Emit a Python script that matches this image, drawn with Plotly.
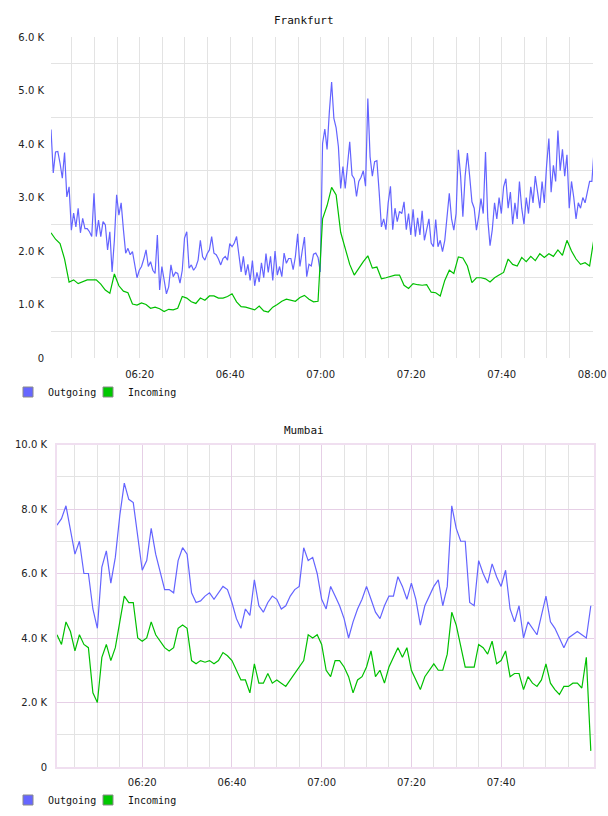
import pandas as pd
import plotly.graph_objects as go

# ---------------- data (values in K) ----------------
fra_out_k = [
    4.27, 3.46, 3.85, 3.86, 3.64, 3.36, 3.84, 3.01, 3.20, 2.39,
    2.71, 2.45, 2.80, 2.34, 2.61, 2.42, 2.42, 2.36, 2.27, 3.08,
    2.27, 2.58, 2.27, 2.55, 2.49, 2.02, 2.36, 1.61, 2.20, 3.05,
    2.67, 2.90, 2.40, 1.96, 2.05, 1.93, 1.99, 1.77, 1.50, 1.64,
    1.71, 1.85, 2.02, 1.71, 1.80, 1.64, 1.58, 2.30, 1.27, 1.71,
    1.45, 1.20, 1.33, 1.74, 1.52, 1.60, 1.58, 1.40, 1.64, 2.24,
    2.36, 1.68, 1.74, 1.64, 1.70, 1.83, 2.20, 1.89, 1.83, 1.95,
    2.02, 2.27, 1.96, 1.93, 1.85, 1.74, 1.86, 1.90, 1.83, 2.14,
    2.08, 2.15, 2.27, 1.95, 1.61, 1.90, 1.55, 1.75, 1.45, 1.82,
    1.35, 1.60, 1.42, 1.78, 1.50, 1.95, 1.60, 1.90, 1.45, 2.00,
    1.55, 1.71, 1.52, 1.96, 1.77, 1.86, 1.86, 1.65, 1.90, 2.32,
    1.71, 2.00, 2.26, 1.52, 1.75, 1.72, 1.94, 1.96, 1.88, 1.61,
    4.01, 4.28, 3.90, 4.60, 5.16, 4.48, 4.30, 3.95, 3.17, 3.58,
    3.17, 3.60, 4.04, 3.42, 3.35, 3.02, 3.30, 3.38, 3.50, 3.21,
    4.85, 3.76, 3.40, 3.67, 3.69, 3.11, 2.45, 2.60, 2.40, 2.90,
    3.21, 2.40, 2.80, 2.55, 2.74, 2.70, 2.92, 2.40, 2.70, 2.30,
    2.78, 2.27, 2.62, 2.30, 2.75, 2.20, 2.40, 2.60, 2.15, 2.08,
    2.59, 2.08, 2.20, 1.99, 2.20, 2.67, 3.08, 2.60, 2.39, 2.70,
    3.89, 3.40, 2.64, 3.40, 3.83, 3.40, 2.92, 2.80, 2.39, 2.65,
    2.98, 2.70, 3.85, 2.60, 2.10, 2.40, 2.90, 2.60, 3.00, 2.70,
    3.20, 3.35, 2.80, 3.10, 2.50, 2.90, 2.60, 3.30, 2.80, 2.50,
    3.00, 2.70, 3.20, 2.90, 3.40, 3.10, 2.80, 3.30, 2.90, 3.60,
    4.10, 3.10, 3.60, 3.30, 4.25, 3.50, 3.90, 3.40, 3.80, 2.80,
    3.30, 3.00, 2.60, 2.90, 2.80, 3.00, 2.90, 3.10, 3.30, 3.30,
    3.90,
]
fra_in_k = [
    2.34, 2.22, 2.14, 1.85, 1.42, 1.46, 1.39, 1.42, 1.46, 1.46,
    1.46, 1.38, 1.27, 1.21, 1.57, 1.35, 1.25, 1.22, 1.01, 0.99,
    1.03, 1.00, 0.93, 0.95, 0.92, 0.87, 0.91, 0.90, 0.93, 1.15,
    1.12, 1.05, 1.02, 1.12, 1.08, 1.16, 1.16, 1.12, 1.12, 1.15,
    1.20, 1.05, 0.96, 0.95, 0.93, 0.90, 0.97, 0.88, 0.86, 0.95,
    1.00, 1.06, 1.10, 1.08, 1.06, 1.13, 1.17, 1.10, 1.05, 1.06,
    2.60, 2.85, 3.19, 3.05, 2.35, 2.05, 1.75, 1.55, 1.68, 1.80,
    1.91, 1.68, 1.70, 1.48, 1.50, 1.53, 1.55, 1.55, 1.36, 1.30,
    1.39, 1.37, 1.36, 1.37, 1.23, 1.22, 1.16, 1.45, 1.64, 1.58,
    1.89, 1.87, 1.72, 1.41, 1.50, 1.50, 1.48, 1.42, 1.50, 1.55,
    1.60, 1.85, 1.75, 1.72, 1.88, 1.80, 1.90, 1.82, 1.95, 1.88,
    1.95, 1.90, 2.02, 1.92, 2.20, 2.00, 1.85, 1.75, 1.78, 1.72,
    2.25,
]
mum_out_k = [
    7.5, 7.7, 8.1, 7.4, 6.6, 7.0, 6.0, 6.0, 4.9, 4.3,
    6.2, 6.7, 5.7, 6.5, 7.8, 8.8, 8.3, 8.2, 7.2, 6.1,
    6.4, 7.4, 6.6, 6.0, 5.5, 5.5, 5.4, 6.4, 6.8, 6.6,
    5.4, 5.1, 5.15, 5.3, 5.4, 5.2, 5.4, 5.6, 5.5, 5.1,
    4.6, 4.3, 4.9, 4.7, 5.8, 5.0, 4.8, 5.1, 5.3, 5.2,
    4.9, 5.0, 5.3, 5.5, 5.6, 6.8, 6.4, 6.5, 6.0, 5.2,
    4.9, 5.6, 5.3, 5.0, 4.6, 4.0, 4.5, 4.9, 5.2, 5.6,
    5.2, 4.8, 4.6, 5.0, 5.3, 5.3, 5.9, 5.6, 5.2, 5.7,
    5.2, 4.4, 5.0, 5.3, 5.6, 5.8, 5.0, 5.6, 8.1, 7.4,
    7.0, 7.0, 5.1, 5.0, 6.4, 6.0, 5.7, 6.3, 5.9, 5.6,
    6.1, 4.9, 4.5, 5.0, 4.0, 4.5, 4.3, 4.1, 4.7, 5.3,
    4.5, 4.3, 4.0, 3.7, 4.0, 4.1, 4.2, 4.1, 4.0, 5.0,
]
mum_in_k = [
    4.1, 3.8, 4.5, 4.2, 3.6, 4.1, 3.8, 3.7, 2.3, 2.0,
    3.4, 3.8, 3.3, 3.7, 4.5, 5.3, 5.1, 5.1, 4.0, 3.9,
    4.0, 4.5, 4.1, 3.9, 3.7, 3.6, 3.7, 4.3, 4.4, 4.3,
    3.3, 3.2, 3.3, 3.25, 3.3, 3.2, 3.3, 3.55, 3.45, 3.3,
    3.0, 2.7, 2.7, 2.3, 3.2, 2.6, 2.6, 2.9, 2.6, 2.7,
    2.6, 2.5, 2.7, 2.9, 3.1, 3.3, 4.1, 4.0, 4.1, 3.8,
    3.0, 2.8, 3.3, 3.3, 3.1, 2.8, 2.3, 2.7, 2.8, 3.1,
    3.6, 2.8, 3.0, 2.6, 3.1, 3.4, 3.7, 3.4, 3.7, 3.0,
    2.7, 2.4, 2.8, 3.0, 3.2, 3.0, 3.0, 3.5, 4.8, 4.4,
    3.8, 3.1, 3.1, 3.1, 3.8, 3.7, 3.5, 3.9, 3.2, 3.3,
    3.6, 2.8, 2.9, 2.9, 2.4, 2.8, 2.6, 2.5, 2.7, 3.2,
    2.6, 2.4, 2.25, 2.5, 2.5, 2.6, 2.6, 2.45, 3.4, 0.5,
]

fra_y_ticks = [0, 1, 2, 3, 4, 5, 6]
fra_y_text = ["0", "1.0 K", "2.0 K", "3.0 K", "4.0 K", "5.0 K", "6.0 K"]
mum_y_ticks = [0, 2, 4, 6, 8, 10]
mum_y_text = ["0", "2.0 K", "4.0 K", "6.0 K", "8.0 K", "10.0 K"]
fra_x_labels = ["06:20", "06:40", "07:00", "07:20", "07:40", "08:00"]
mum_x_labels = ["06:20", "06:40", "07:00", "07:20", "07:40"]
series_names = ["Outgoing", "Incoming"]

DAY = "2013-05-14 "
fra_out_t = pd.date_range(DAY + "06:00:25", periods=len(fra_out_k), freq="30s")
fra_in_t = pd.date_range(DAY + "06:00:25", periods=len(fra_in_k), freq="60s")
mum_out_t = pd.date_range(DAY + "06:01:00", periods=len(mum_out_k), freq="60s")
mum_in_t = pd.date_range(DAY + "06:01:00", periods=len(mum_in_k), freq="60s")

five_min = pd.date_range(DAY + "06:05", DAY + "07:55", freq="5min")

BLUE = "#6464ff"
GREEN = "#00c000"
GRID = "#e3e3e3"
LILAC = "#e6cfe6"
BORDER = "#f0dff0"
W, H = 608, 816

fig = go.Figure()
# Frankfurt
fig.add_trace(go.Scatter(x=fra_out_t, y=fra_out_k, mode="lines", line=dict(color=BLUE, width=1.2),
                         showlegend=False, xaxis="x", yaxis="y"))
fig.add_trace(go.Scatter(x=fra_in_t, y=fra_in_k, mode="lines", line=dict(color=GREEN, width=1.2),
                         showlegend=False, xaxis="x", yaxis="y"))
# Mumbai
fig.add_trace(go.Scatter(x=mum_out_t, y=mum_out_k, mode="lines", line=dict(color=BLUE, width=1.2),
                         showlegend=False, xaxis="x2", yaxis="y2"))
fig.add_trace(go.Scatter(x=mum_in_t, y=mum_in_k, mode="lines", line=dict(color=GREEN, width=1.2),
                         showlegend=False, xaxis="x2", yaxis="y2"))

# legend entries (square swatches); a blank trailing entry gives room for the last label
for leg, xa, ya in (("legend", "x", "y"), ("legend2", "x2", "y2")):
    for name, col in zip(series_names, ("#6666ff", "#00c800")):
        fig.add_trace(go.Scatter(x=[None], y=[None], mode="markers", name=name,
                                 marker=dict(symbol="square", size=10, color=col,
                                             line=dict(color="#8a8a8a", width=1)),
                                 legend=leg, xaxis=xa, yaxis=ya))
    fig.add_trace(go.Scatter(x=[None], y=[None], mode="markers", name=" ",
                             marker=dict(symbol="square", size=1, color="rgba(0,0,0,0)",
                                         line=dict(width=0)),
                             legend=leg, xaxis=xa, yaxis=ya, hoverinfo="skip"))

tickfont = dict(family="DejaVu Sans", size=10, color="#222")
legfont = dict(family="DejaVu Sans Mono", size=10, color="#111")

fig.update_layout(
    width=W, height=H, autosize=False,
    margin=dict(l=0, r=0, t=0, b=0, autoexpand=False),
    paper_bgcolor="white", plot_bgcolor="white",
    xaxis=dict(
        type="date", domain=[51 / W, 593 / W],
        range=[DAY + "06:00:25", DAY + "08:00:10"],
        tickmode="array",
        tickvals=[DAY + t for t in fra_x_labels], ticktext=fra_x_labels,
        showgrid=True, gridcolor=GRID, gridwidth=1,
        minor=dict(tickmode="array", tickvals=list(five_min), showgrid=True, gridcolor=GRID, gridwidth=1),
        zeroline=False, showline=False, ticks="", ticklabelstandoff=9,
        tickfont=tickfont, anchor="y", fixedrange=True, automargin=False,
    ),
    yaxis=dict(
        domain=[1 - 358 / H, 1 - 37 / H], range=[0, 6],
        tickmode="array", tickvals=fra_y_ticks, ticktext=fra_y_text,
        showgrid=False,
        minor=dict(tickmode="array", tickvals=[0.5, 1.5, 2.5, 3.5, 4.5, 5.5],
                   showgrid=True, gridcolor=GRID, gridwidth=1),
        zeroline=False, showline=False, ticks="", ticklabelstandoff=6,
        tickfont=tickfont, anchor="x", fixedrange=True, automargin=False,
    ),
    xaxis2=dict(
        type="date", domain=[57 / W, 593.5 / W],
        range=[DAY + "06:01:00", DAY + "08:00:36"],
        tickmode="array",
        tickvals=[DAY + t for t in mum_x_labels], ticktext=mum_x_labels,
        showgrid=True, gridcolor=LILAC, gridwidth=1,
        minor=dict(tickmode="array", tickvals=list(five_min), showgrid=True, gridcolor=GRID, gridwidth=1),
        zeroline=False, showline=True, mirror=True, linecolor=BORDER, linewidth=2,
        ticks="", ticklabelstandoff=5,
        tickfont=tickfont, anchor="y2", fixedrange=True, automargin=False,
    ),
    yaxis2=dict(
        domain=[1 - 767 / H, 1 - 444.5 / H], range=[0, 10],
        tickmode="array", tickvals=mum_y_ticks, ticktext=mum_y_text,
        showgrid=True, gridcolor=LILAC, gridwidth=1,
        minor=dict(tickmode="array", tickvals=[1, 3, 5, 7, 9],
                   showgrid=True, gridcolor=GRID, gridwidth=1),
        zeroline=False, showline=True, mirror=True, linecolor=BORDER, linewidth=2,
        ticks="", ticklabelstandoff=6,
        tickfont=tickfont, anchor="x2", fixedrange=True, automargin=False,
    ),
    legend=dict(orientation="h", x=8 / W, y=1 - 392 / H, xanchor="left", yanchor="middle",
                entrywidth=35, entrywidthmode="pixels", bgcolor="rgba(0,0,0,0)",
                font=legfont, itemclick=False, itemdoubleclick=False),
    legend2=dict(orientation="h", x=8 / W, y=1 - 800 / H, xanchor="left", yanchor="middle",
                 entrywidth=35, entrywidthmode="pixels", bgcolor="rgba(0,0,0,0)",
                 font=legfont, itemclick=False, itemdoubleclick=False),
    annotations=[
        dict(text="Frankfurt", x=0.5, y=1 - 20 / H, xref="paper", yref="paper", yanchor="middle",
             showarrow=False, font=dict(family="DejaVu Sans Mono", size=11, color="#111")),
        dict(text="Mumbai", x=0.5, y=1 - 430 / H, xref="paper", yref="paper", yanchor="middle",
             showarrow=False, font=dict(family="DejaVu Sans Mono", size=11, color="#111")),
    ],
)

fig.write_html("out.html", config={"displayModeBar": False})
